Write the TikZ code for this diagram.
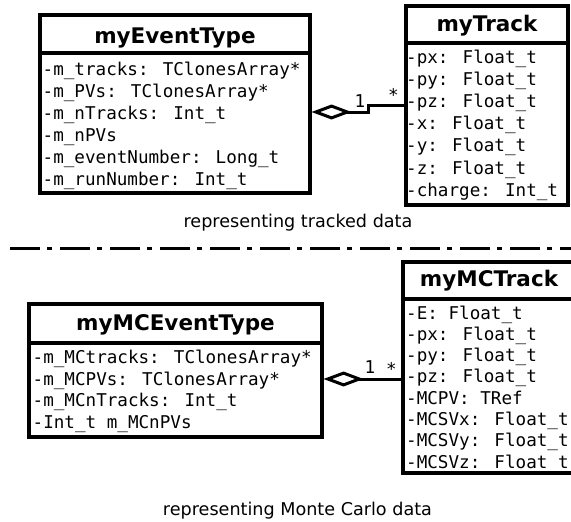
\documentclass[tikz,border=0pt]{standalone}
\usepackage{fontspec}
\setmainfont{DejaVu Sans}
\newfontfamily\monof{DejaVu Sans Mono}
\usetikzlibrary{arrows.meta}
\begin{document}
\begin{tikzpicture}[x=1pt,y=-1pt,
  umlbox/.style={draw,line width=3.1pt,inner sep=0pt},
  sepline/.style={line width=3.1pt},
  ctitle/.style={anchor=base,inner sep=0pt,font=\fontsize{21.5}{25}\selectfont\bfseries},
  attr/.style={anchor=base west,inner sep=0pt,font=\fontsize{17.6}{21}\selectfont\monof\fontsize{17.6}{21}\selectfont},
  mult/.style={anchor=base,inner sep=0pt,font=\fontsize{17.6}{21}\selectfont\monof\fontsize{17.6}{21}\selectfont},
  caption/.style={anchor=base,inner sep=0pt,font=\fontsize{17.6}{21}\selectfont},
  conn/.style={line width=3pt,-{Diamond[open,length=40pt,width=15pt]}}]
\useasboundingbox (0,0) rectangle (571,522);

% ---------- myEventType ----------
\node[umlbox,minimum width=270pt,minimum height=178pt] (ev) at (175,104) {};
\coordinate (evh) at (0,53);
\draw[sepline] (ev.west |- evh) -- (ev.east |- evh);
\node[ctitle] (evt) at (175,43.3) {myEventType};
\node[attr] (ev1) at (42.5,75.5) {-m\_tracks: TClonesArray*};
\node[attr] (ev2) at (42.5,97.4) {-m\_PVs: TClonesArray*};
\node[attr] (ev3) at (42.5,119.3) {-m\_nTracks: Int\_t};
\node[attr] (ev4) at (42.5,141.2) {-m\_nPVs};
\node[attr] (ev5) at (42.5,163.1) {-m\_eventNumber: Long\_t};
\node[attr] (ev6) at (42.5,185) {-m\_runNumber: Int\_t};

% ---------- myTrack ----------
\node[umlbox,minimum width=162pt,minimum height=199pt] (tr) at (487,105.5) {};
\coordinate (trh) at (0,43);
\draw[sepline] (tr.west |- trh) -- (tr.east |- trh);
\node[ctitle] (trt) at (487,31.7) {myTrack};
\node[attr] (tr1) at (406,63.5) {-px: Float\_t};
\node[attr] (tr2) at (406,85.6) {-py: Float\_t};
\node[attr] (tr3) at (406,107.7) {-pz: Float\_t};
\node[attr] (tr4) at (406,129.8) {-x: Float\_t};
\node[attr] (tr5) at (406,151.9) {-y: Float\_t};
\node[attr] (tr6) at (406,174) {-z: Float\_t};
\node[attr] (tr7) at (406,196) {-charge: Int\_t};

% connector 1
\coordinate (y1a) at (0,105);
\coordinate (y1b) at (0,112);
\coordinate (k1a) at (368,105);
\coordinate (k1b) at (368,112);
\draw[conn] (tr.west |- y1a) -- (k1a) -- (k1b) -- (ev.east |- y1b);
\node[mult] (m1a) at (360,107) {1};
\node[mult] (m1b) at (393.5,101) {*};

\node[caption] (cap1) at (298,227) {representing tracked data};

% separator
\coordinate (d1) at (10,248);
\coordinate (d2) at (580,248);
\draw[line width=3pt,dash pattern=on 30pt off 7pt on 5pt off 8pt] (d1) -- (d2);

% ---------- myMCEventType ----------
\node[umlbox,minimum width=293pt,minimum height=133pt] (mce) at (175.5,370.5) {};
\coordinate (mceh) at (0,343);
\draw[sepline] (mce.west |- mceh) -- (mce.east |- mceh);
\node[ctitle] (mcet) at (175.5,330) {myMCEventType};
\node[attr] (mce1) at (32.5,363.5) {-m\_MCtracks: TClonesArray*};
\node[attr] (mce2) at (32.5,385) {-m\_MCPVs: TClonesArray*};
\node[attr] (mce3) at (32.5,406.5) {-m\_MCnTracks: Int\_t};
\node[attr] (mce4) at (32.5,428) {-Int\_t m\_MCnPVs};

% ---------- myMCTrack ----------
\node[umlbox,minimum width=173pt,minimum height=211pt] (mct) at (489.5,367.5) {};
\coordinate (mcth) at (0,299);
\draw[sepline] (mct.west |- mcth) -- (mct.east |- mcth);
\node[ctitle] (mctt) at (489,286.7) {myMCTrack};
\node[attr] (mct1) at (406,319) {-E: Float\_t};
\node[attr] (mct2) at (406,340.3) {-px: Float\_t};
\node[attr] (mct3) at (406,361.6) {-py: Float\_t};
\node[attr] (mct4) at (406,382.9) {-pz: Float\_t};
\node[attr] (mct5) at (406,404.2) {-MCPV: TRef};
\node[attr] (mct6) at (406,425.5) {-MCSVx: Float\_t};
\node[attr] (mct7) at (406,446.8) {-MCSVy: Float\_t};
\node[attr] (mct8) at (406,468.1) {-MCSVz: Float\_t};

% connector 2
\coordinate (y2) at (0,379);
\draw[conn] (mct.west |- y2) -- (mce.east |- y2);
\node[mult] (m2a) at (370,373) {1};
\node[mult] (m2b) at (391.5,375) {*};

\node[caption] (cap2) at (297.5,515) {representing Monte Carlo data};
\end{tikzpicture}
\end{document}
